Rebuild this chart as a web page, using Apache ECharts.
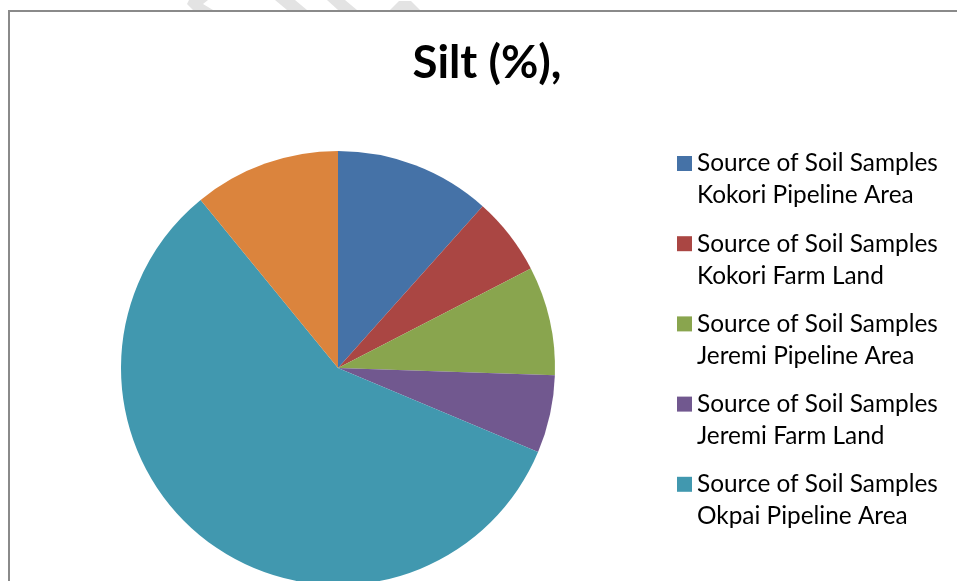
<!DOCTYPE html>
<html>
<head>
<meta charset="utf-8">
<title>Silt (%)</title>
<script src="https://cdn.jsdelivr.net/npm/echarts@6/dist/echarts.min.js"></script>
<style>
  html, body { margin: 0; padding: 0; background: #ffffff; }
  #chart { width: 957px; height: 581px; }
</style>
</head>
<body>
<div id="chart"></div>
<script>
// Silt share by soil sample source
const titleText = 'Silt (%),';
const sourcePrefix = 'Source of Soil Samples';
const sites = [
  'Kokori Pipeline Area',
  'Kokori Farm Land',
  'Jeremi Pipeline Area',
  'Jeremi Farm Land',
  'Okpai Pipeline Area',
  'Okpai Farm Land'
];
const siltValues = [11.6, 5.8, 8.1, 5.8, 57.7, 10.9];
const sliceColors = ['#4572A7', '#AA4643', '#89A54E', '#71588F', '#4198AF', '#DB843D'];

// only the first five entries fit in the legend panel
const legendCount = 5;

const names = sites.map(s => sourcePrefix + '\n' + s);
const pieData = names.map((n, i) => ({
  name: n,
  value: siltValues[i],
  itemStyle: { color: sliceColors[i] }
}));
const legendNames = names.slice(0, legendCount);

const FONT = 'Lato';
const legendText = { fontFamily: FONT, fontSize: 24.4, color: '#000000' };

const chart = echarts.init(document.getElementById('chart'), null, { renderer: 'canvas' });

chart.setOption({
  animation: false,
  backgroundColor: '#ffffff',
  title: {
    text: titleText,
    left: 487,
    top: 40,
    padding: 0,
    textAlign: 'center',
    textStyle: { fontFamily: FONT, fontSize: 45.6, fontWeight: 'bold', color: '#000000', lineHeight: 46 }
  },
  legend: [
    {
      // first line of each entry, with the colour swatch
      data: legendNames,
      orient: 'vertical',
      left: 677,
      top: 151.5,
      padding: 0,
      itemWidth: 15,
      itemHeight: 15,
      itemGap: 56.2,
      icon: 'rect',
      selectedMode: false,
      formatter: n => n.split('\n')[0],
      textStyle: legendText
    },
    {
      // second line of each entry: the sampling site
      data: legendNames,
      orient: 'vertical',
      left: 677,
      top: 183.5,
      padding: 0,
      itemWidth: 15,
      itemHeight: 15,
      itemGap: 56.2,
      icon: 'none',
      selectedMode: false,
      formatter: n => n.split('\n')[1],
      textStyle: legendText
    }
  ],
  graphic: [
    {
      // chart area frame
      type: 'rect',
      silent: true,
      shape: { x: 9, y: 11, width: 1200, height: 1200 },
      style: { fill: 'none', stroke: '#8a8a8a', lineWidth: 2 }
    },
    {
      type: 'group',
      silent: true,
      children: [
        { type: 'polygon', shape: { points: [[189, 0], [208, 0], [203, 4], [213, 10], [193, 10], [187, 4]] }, style: { fill: '#e3e3e3' } },
        { type: 'polygon', shape: { points: [[275, 0], [295, 0], [307, 10], [287, 10]] }, style: { fill: '#e3e3e3' } },
        { type: 'polygon', shape: { points: [[327, 0], [345, 0], [357, 10], [338, 10]] }, style: { fill: '#e3e3e3' } },
        { type: 'polygon', shape: { points: [[399, 1], [411, 1], [420, 10], [390, 10]] }, style: { fill: '#e3e3e3' } }
      ]
    }
  ],
  series: [
    {
      type: 'pie',
      center: [338, 368],
      radius: 217,
      startAngle: 90,
      clockwise: true,
      avoidLabelOverlap: false,
      label: { show: false },
      labelLine: { show: false },
      emphasis: { scale: false },
      itemStyle: { borderWidth: 0 },
      data: pieData
    }
  ]
});
</script>
</body>
</html>
